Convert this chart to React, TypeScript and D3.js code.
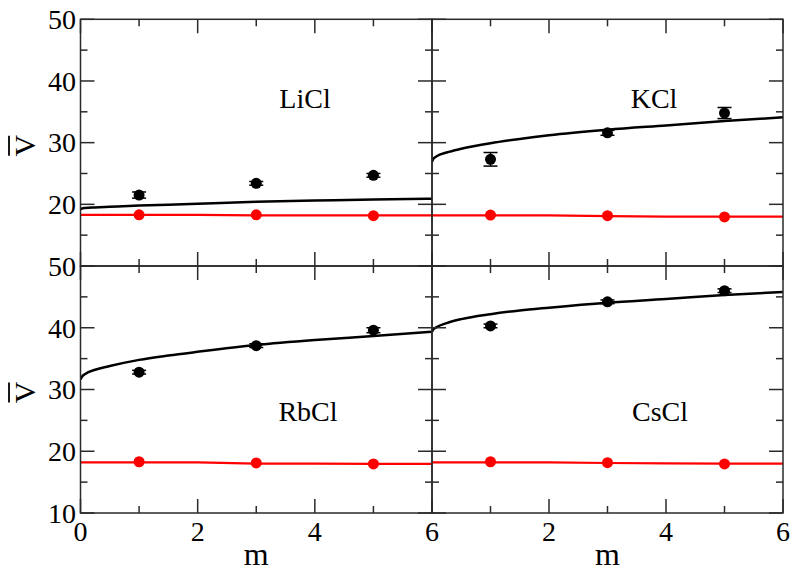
import React from "react";
import * as d3 from "d3";

// ---- data ----
const pointM = [1, 3, 5];
const curveM = [0, 0.02, 0.08, 0.25, 0.5, 1, 1.5, 2, 3, 4, 5, 6];
const redM = [0, 1, 2, 3, 4, 5, 6];

const saltNames = ["LiCl", "KCl", "RbCl", "CsCl"];

const liclCurve = [19.2, 19.3, 19.4, 19.5, 19.6, 19.8, 19.95, 20.1, 20.4, 20.6, 20.8, 20.9];
const kclCurve = [26.9, 27.35, 27.8, 28.4, 29.0, 29.9, 30.6, 31.2, 32.1, 32.8, 33.5, 34.1];
const rbclCurve = [31.6, 32.0, 32.5, 33.2, 33.8, 34.8, 35.5, 36.1, 37.2, 38.0, 38.65, 39.35];
const csclCurve = [39.35, 39.7, 40.1, 40.75, 41.4, 42.2, 42.8, 43.25, 44.05, 44.65, 45.3, 45.8];

const liclRedLine = [18.3, 18.3, 18.3, 18.2, 18.2, 18.2, 18.2];
const kclRedLine = [18.2, 18.2, 18.2, 18.1, 18.0, 18.0, 18.0];
const rbclRedLine = [18.2, 18.2, 18.2, 18.0, 18.0, 17.95, 17.95];
const csclRedLine = [18.2, 18.2, 18.2, 18.1, 18.05, 18.0, 18.0];

const liclBlack = [21.5, 23.4, 24.7];
const kclBlack = [27.3, 31.6, 34.8];
const rbclBlack = [32.8, 37.1, 39.6];
const csclBlack = [40.3, 44.2, 46.0];

const liclBlackErr = [0.5, 0.3, 0.3];
const kclBlackErr = [1.1, 0.4, 0.9];
const rbclBlackErr = [0.3, 0.3, 0.4];
const csclBlackErr = [0.3, 0.3, 0.3];

const liclRed = [18.3, 18.3, 18.15];
const kclRed = [18.25, 18.15, 17.95];
const rbclRed = [18.3, 18.1, 17.95];
const csclRed = [18.3, 18.15, 17.95];

const yMajor = [10, 20, 30, 40, 50];
const yMinor = [15, 25, 35, 45];
const xMajor = [0, 2, 4, 6];
const xMinor = [1, 3, 5];
const topYLabels = ["20", "30", "40", "50"];
const bottomYLabels = ["10", "20", "30", "40", "50"];
const leftXLabels = ["0", "2", "4", "6"];
const rightXLabels = ["2", "4", "6"];

const panels = [
  { name: saltNames[0], col: 0, row: 0, curve: liclCurve, red: liclRedLine, black: liclBlack, err: liclBlackErr, redPts: liclRed, lx: 305, ly: 108 },
  { name: saltNames[1], col: 1, row: 0, curve: kclCurve, red: kclRedLine, black: kclBlack, err: kclBlackErr, redPts: kclRed, lx: 654, ly: 108 },
  { name: saltNames[2], col: 0, row: 1, curve: rbclCurve, red: rbclRedLine, black: rbclBlack, err: rbclBlackErr, redPts: rbclRed, lx: 308, ly: 421 },
  { name: saltNames[3], col: 1, row: 1, curve: csclCurve, red: csclRedLine, black: csclBlack, err: csclBlackErr, redPts: csclRed, lx: 660, ly: 421 },
];

const X0 = 80.5, XM = 432, X1 = 783;
const Y0 = 19.3, YM = 266, Y1 = 513;
const FONT = "'Liberation Serif', 'Times New Roman', serif";
const FRAME = "#2a2a2a";

export default function App() {
  return (
    <svg width={800} height={575} style={{ position: "absolute", left: 0, top: 0, background: "#fff" }}>
      <defs>
        {panels.map((p, i) => (
          <clipPath id={`clip${i}`} key={i}>
            <rect x={p.col ? XM : X0} y={p.row ? YM : Y0} width={p.col ? X1 - XM : XM - X0} height={p.row ? Y1 - YM : YM - Y0} />
          </clipPath>
        ))}
      </defs>
      {panels.map((p, i) => {
        const x = d3.scaleLinear().domain([0, 6]).range(p.col ? [XM, X1] : [X0, XM]);
        const y = d3.scaleLinear().domain([10, 50]).range(p.row ? [Y1, YM] : [YM, Y0]);
        const [xa, xb] = x.range();
        const [yb, ya] = y.range();
        const smooth = d3.line<[number, number]>().x((d) => x(d[0])).y((d) => y(d[1])).curve(d3.curveMonotoneX);
        const line = d3.line<[number, number]>().x((d) => x(d[0])).y((d) => y(d[1]));
        const curvePath = smooth(curveM.map((m, k) => [m, p.curve[k]]));
        const redPath = line(redM.map((m, k) => [m, p.red[k]]));
        const ticks: JSX.Element[] = [];
        yMajor.concat(yMinor).forEach((v) => {
          const L = yMajor.includes(v) ? 14 : 7;
          const yy = y(v);
          ticks.push(<line key={`yl${v}`} x1={xa} x2={xa + L} y1={yy} y2={yy} />);
          ticks.push(<line key={`yr${v}`} x1={xb} x2={xb - L} y1={yy} y2={yy} />);
        });
        xMajor.concat(xMinor).forEach((v) => {
          const L = xMajor.includes(v) ? 14 : 7;
          const xx = x(v);
          ticks.push(<line key={`xb${v}`} x1={xx} x2={xx} y1={yb} y2={yb - L} />);
          ticks.push(<line key={`xt${v}`} x1={xx} x2={xx} y1={ya} y2={ya + L} />);
        });
        return (
          <g key={i}>
            <g clipPath={`url(#clip${i})`}>
              <path d={redPath || ""} fill="none" stroke="#ff0000" strokeWidth={2.2} />
              <path d={curvePath || ""} fill="none" stroke="#000" strokeWidth={2.5} />
            </g>
            {pointM.map((m, k) => (
              <g key={`b${k}`} stroke="#000" strokeWidth={1.5}>
                <line x1={x(m)} x2={x(m)} y1={y(p.black[k] - p.err[k])} y2={y(p.black[k] + p.err[k])} />
                <line x1={x(m) - 7} x2={x(m) + 7} y1={y(p.black[k] - p.err[k])} y2={y(p.black[k] - p.err[k])} />
                <line x1={x(m) - 7} x2={x(m) + 7} y1={y(p.black[k] + p.err[k])} y2={y(p.black[k] + p.err[k])} />
                <circle cx={x(m)} cy={y(p.black[k])} r={5.5} fill="#000" stroke="none" />
              </g>
            ))}
            {pointM.map((m, k) => (
              <circle key={`r${k}`} cx={x(m)} cy={y(p.redPts[k])} r={5.5} fill="#ff0000" />
            ))}
            <g stroke={FRAME} strokeWidth={1.5}>
              {ticks}
              <rect x={xa} y={ya} width={xb - xa} height={yb - ya} fill="none" />
            </g>
            <text x={p.lx} y={p.ly} textAnchor="middle" fontFamily={FONT} fontSize={28} fill="#000">
              {p.name}
            </text>
            {p.col === 0 &&
              (p.row === 0 ? topYLabels : bottomYLabels).map((t) => (
                <text key={`yt${t}`} x={76} y={y(+t)} dy="0.35em" textAnchor="end" fontFamily={FONT} fontSize={28} fill="#000">
                  {t}
                </text>
              ))}
            {p.row === 1 &&
              (p.col === 0 ? leftXLabels : rightXLabels).map((t) => (
                <text key={`xt${t}`} x={x(+t)} y={541} textAnchor="middle" fontFamily={FONT} fontSize={28} fill="#000">
                  {t}
                </text>
              ))}
            {p.row === 1 && (
              <text x={(xa + xb) / 2} y={565} textAnchor="middle" fontFamily={FONT} fontSize={32} fill="#000">
                m
              </text>
            )}
            {p.col === 0 && (
              <g>
                <text transform={`translate(35,${(ya + yb) / 2 + 3}) rotate(-90)`} textAnchor="middle" fontFamily={FONT} fontSize={30} fill="#000">
                  V
                </text>
                <line x1={9} x2={9} y1={(ya + yb) / 2 + 3 - 10} y2={(ya + yb) / 2 + 3 + 10} stroke="#000" strokeWidth={1.8} />
              </g>
            )}
          </g>
        );
      })}
    </svg>
  );
}
